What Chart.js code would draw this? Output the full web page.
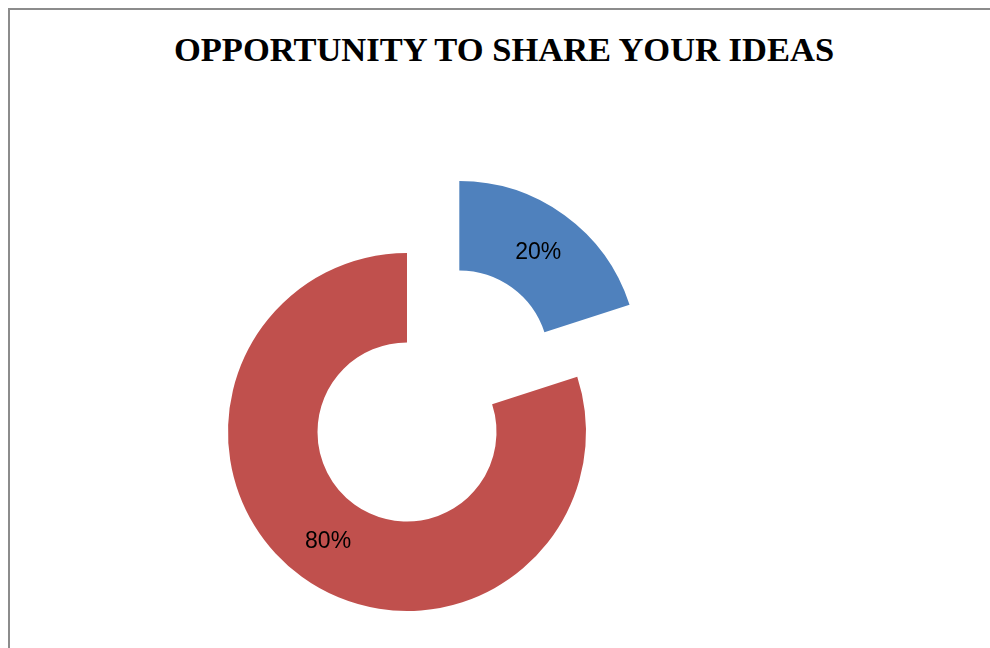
<!DOCTYPE html>
<html>
<head>
<meta charset="utf-8">
<script src="https://cdn.jsdelivr.net/npm/chart.js@4/dist/chart.umd.min.js"></script>
<style>
  html, body { margin: 0; padding: 0; background: #fff; }
  body { width: 990px; height: 648px; position: relative; overflow: hidden; }
  #frame {
    position: absolute; left: 8px; top: 8px; width: 1100px; height: 800px;
    border-left: 2px solid #8c8c8c; border-top: 2px solid #8c8c8c;
  }
  #title {
    position: absolute; left: 8px; top: 30px; width: 992px; text-align: center;
    font-family: "Liberation Serif", "Times New Roman", serif;
    font-weight: bold; font-size: 34.5px; color: #000; white-space: nowrap;
  }
  #wrap { position: absolute; left: 0; top: 0; width: 990px; height: 648px; }
</style>
</head>
<body>
<div id="frame"></div>
<div id="title">OPPORTUNITY TO SHARE YOUR IDEAS</div>
<div id="wrap"><canvas id="chart"></canvas></div>
<script>
const categories = ['Yes', 'No'];
const shares = [20, 80];
const colors = ['#4F81BD', '#C0504D'];
const explode = [89, 0];

// pull slices out along their middle angle
const explodePlugin = {
  id: 'explode',
  afterDatasetsUpdate(chart) {
    chart.getDatasetMeta(0).data.forEach((arc, i) => {
      const d = explode[i];
      if (!d) return;
      const mid = (arc.startAngle + arc.endAngle) / 2;
      arc.x += Math.cos(mid) * d;
      arc.y += Math.sin(mid) * d;
    });
  }
};

// percentage labels in the middle of each ring segment
const labelPlugin = {
  id: 'sliceLabels',
  afterDatasetsDraw(chart) {
    const ctx = chart.ctx;
    ctx.save();
    ctx.font = '23px "Liberation Sans", Arial, sans-serif';
    ctx.fillStyle = '#000';
    ctx.textAlign = 'center';
    ctx.textBaseline = 'middle';
    chart.getDatasetMeta(0).data.forEach((arc, i) => {
      const mid = (arc.startAngle + arc.endAngle) / 2;
      const r = (arc.innerRadius + arc.outerRadius) / 2;
      ctx.fillText(shares[i] + '%', arc.x + Math.cos(mid) * r, arc.y + Math.sin(mid) * r + 1);
    });
    ctx.restore();
  }
};

new Chart(document.getElementById('chart'), {
  type: 'doughnut',
  data: {
    labels: categories,
    datasets: [{
      data: shares,
      backgroundColor: colors,
      borderWidth: 0
    }]
  },
  options: {
    responsive: true,
    maintainAspectRatio: false,
    animation: false,
    events: [],
    radius: 179,
    cutout: '50%',
    layout: { padding: { left: 0, right: 176, top: 216, bottom: 0 } },
    plugins: {
      legend: { display: false },
      tooltip: { enabled: false },
      title: { display: false }
    }
  },
  plugins: [explodePlugin, labelPlugin]
});
</script>
</body>
</html>
